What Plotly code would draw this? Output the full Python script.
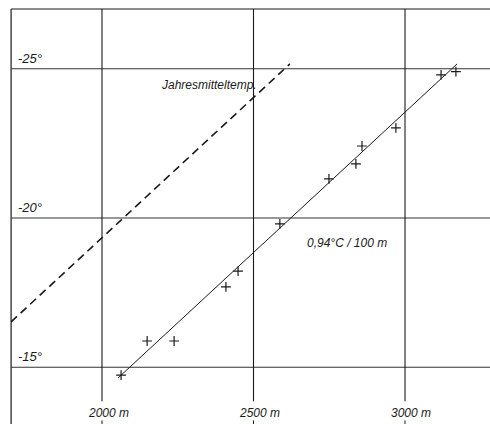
import plotly.graph_objects as go

# Measured points (altitude in m, temperature in °C)
altitude_m = [2063, 2149, 2238, 2409, 2449, 2587, 2749, 2838, 2858, 2970, 3119, 3168]
temperature_c = [-14.74, -15.88, -15.88, -17.69, -18.22, -19.80, -21.31, -21.81, -22.41, -23.02, -24.79, -24.90]

# Regression line (0,94 °C / 100 m)
regression_x = [2053, 3172]
regression_y = [-14.64, -25.16]

# Annual mean temperature line (dashed)
annual_mean_x = [1700, 2620]
annual_mean_y = [-16.52, -25.16]

x_grid_values = [2000, 2500, 3000]
x_tick_labels = ["2000 m", "2500 m", "3000 m"]
y_grid_values = [-25, -20, -15]
y_tick_labels = ["-25°", "-20°", "-15°"]

X_MIN, X_MAX = 1663.4, 3280.5
Y_BOTTOM, Y_TOP = -13.10, -27.30
FRAME_X, FRAME_Y = 1700, -27.0

ink = "#1a1a1a"
fnt = dict(family="Liberation Sans, Arial, sans-serif", size=12, color=ink)
fnt_y = dict(family="Liberation Sans, Arial, sans-serif", size=13, color=ink)

fig = go.Figure()

fig.add_trace(go.Scatter(
    x=annual_mean_x, y=annual_mean_y, mode="lines",
    line=dict(color=ink, width=1.6, dash="8px,5px"),
    showlegend=False, hoverinfo="skip"))

fig.add_trace(go.Scatter(
    x=regression_x, y=regression_y, mode="lines",
    line=dict(color=ink, width=1.0),
    showlegend=False, hoverinfo="skip"))

fig.add_trace(go.Scatter(
    x=altitude_m, y=temperature_c, mode="markers",
    marker=dict(symbol="cross-thin", size=7, line=dict(color=ink, width=1.2)),
    showlegend=False))

shapes = []
# frame
shapes.append(dict(type="line", xref="x", yref="y", x0=FRAME_X, x1=FRAME_X,
                   y0=FRAME_Y, y1=Y_BOTTOM, line=dict(color=ink, width=1.2)))
shapes.append(dict(type="line", xref="x", yref="y", x0=FRAME_X, x1=X_MAX,
                   y0=FRAME_Y, y1=FRAME_Y, line=dict(color=ink, width=1.1)))
# horizontal grid
for v in y_grid_values:
    shapes.append(dict(type="line", xref="x", yref="y", x0=FRAME_X, x1=X_MAX,
                       y0=v, y1=v, line=dict(color="#333333", width=1.1)))
# vertical grid
for v in x_grid_values:
    shapes.append(dict(type="line", xref="x", yref="y", x0=v, x1=v,
                       y0=FRAME_Y, y1=-13.86, line=dict(color=ink, width=1.1)))
    shapes.append(dict(type="line", xref="x", yref="y", x0=v, x1=v,
                       y0=-13.22, y1=Y_BOTTOM, line=dict(color=ink, width=1.0)))

annotations = []
for v, t in zip(y_grid_values, y_tick_labels):
    annotations.append(dict(x=1716, y=v, xref="x", yref="y", text="<i>" + t + "</i>",
                            showarrow=False, xanchor="left", yanchor="bottom",
                            yshift=1, font=fnt_y))
for v, t in zip(x_grid_values, x_tick_labels):
    annotations.append(dict(x=v + 20, y=-13.47, xref="x", yref="y", text="<i>" + t + "</i>",
                            showarrow=False, xanchor="center", yanchor="middle", font=fnt))

annotations.append(dict(x=2352, y=-24.45, xref="x", yref="y",
                        text="<i>Jahresmitteltemp.</i>", showarrow=False,
                        xanchor="center", yanchor="middle", font=fnt))
annotations.append(dict(x=2808, y=-19.15, xref="x", yref="y",
                        text="<i>0,94°C / 100 m</i>", showarrow=False,
                        xanchor="center", yanchor="middle", font=fnt))

fig.update_layout(
    width=490, height=424,
    margin=dict(l=0, r=0, t=0, b=0),
    paper_bgcolor="white", plot_bgcolor="white",
    xaxis=dict(range=[X_MIN, X_MAX], showgrid=False, zeroline=False,
               showticklabels=False, ticks="", showline=False),
    yaxis=dict(range=[Y_BOTTOM, Y_TOP], showgrid=False, zeroline=False,
               showticklabels=False, ticks="", showline=False),
    shapes=shapes, annotations=annotations,
)

fig.write_html("out.html", config={"displayModeBar": False},
               post_script="document.body.style.margin='0';document.body.style.padding='0';document.body.style.overflow='hidden';")
